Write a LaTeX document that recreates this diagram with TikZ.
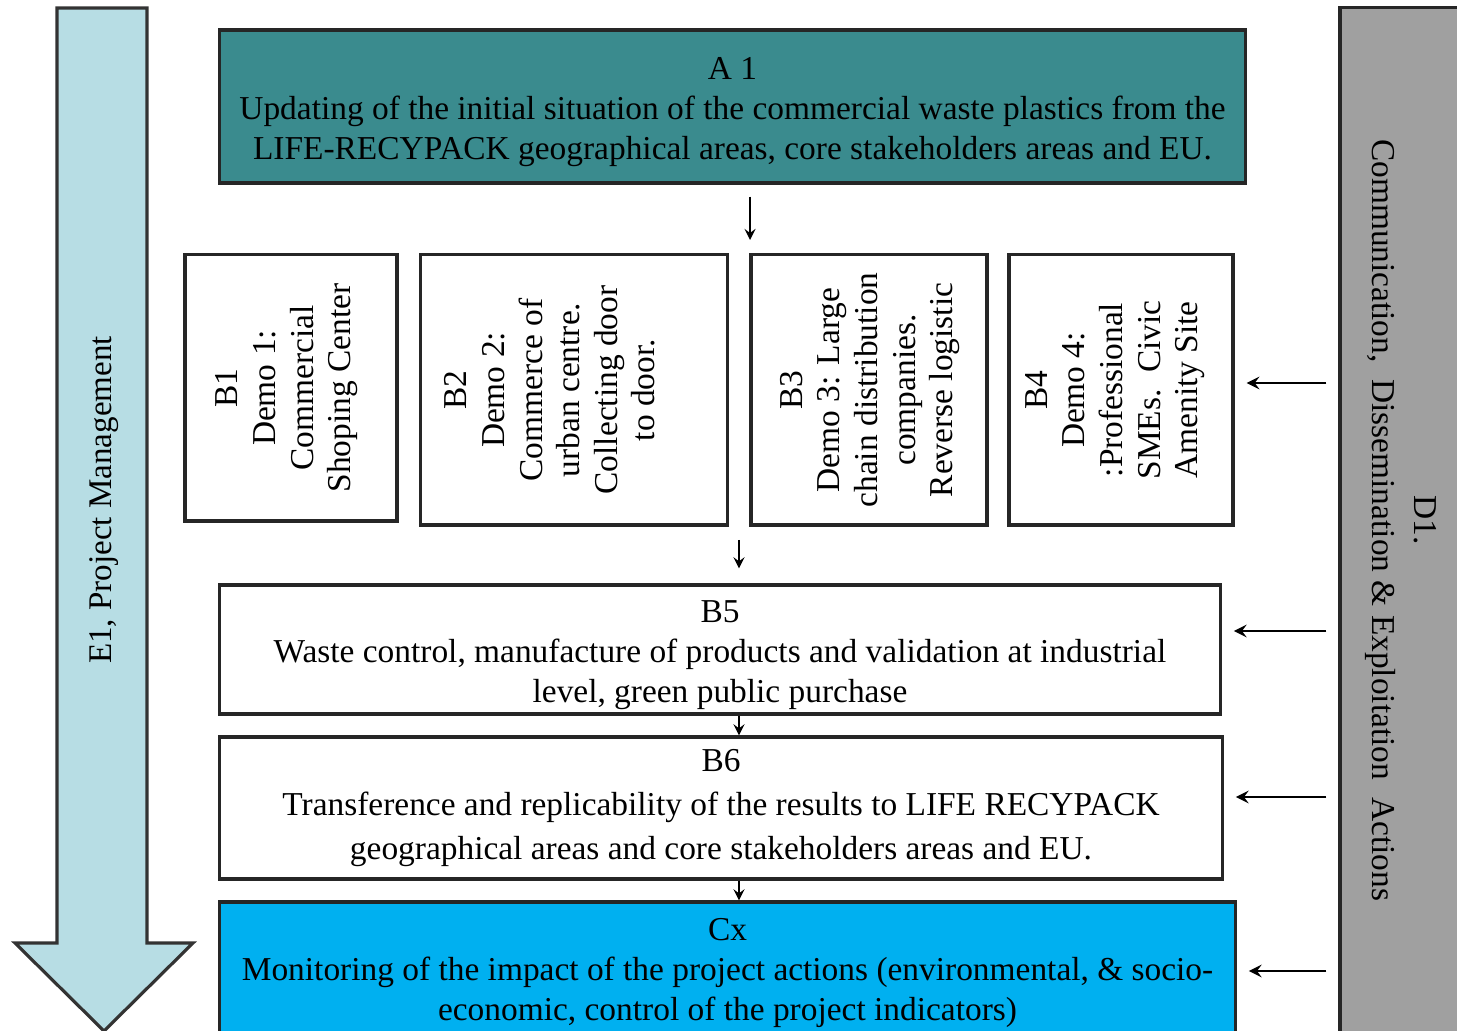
\documentclass[tikz,border=0pt]{standalone}
\usepackage{fontspec}
\setmainfont{Liberation Serif}
\usepackage{tikz}

\definecolor{ateal}{HTML}{3A8B8E}
\definecolor{cblue}{HTML}{00B0F0}
\definecolor{pmblue}{HTML}{B7DDE4}
\definecolor{dgray}{HTML}{A0A0A0}
\newcommand{\topgap}{\rule{0pt}{9.3pt}}

\begin{document}
\begin{tikzpicture}[x=0.01cm,y=-0.01cm,
	box/.style={draw=black!85,line width=0.9pt,inner sep=0pt,align=center,font=\fontsize{9.5}{11.4}\selectfont},
	vtext/.style={rotate=90,align=center,inner sep=0pt,font=\fontsize{9.5}{10.7}\selectfont},
	flow/.style={->,>=stealth,thin},
	feed/.style={->,>=stealth,semithick,shorten <=0.12cm,shorten >=0.12cm}]
	\useasboundingbox (0,0) rectangle (1457,1031);
	\fill[white] (0,0) rectangle (1457,1031);
	
	%E1 arrow
	\draw[fill=pmblue,draw=black!80,line width=0.9pt] (57,8) -- (147,8) -- (147,943) -- (193,943) -- (104,1031) -- (15,943) -- (57,943) -- cycle;
	\node[rotate=90,font=\fontsize{9.4}{11}\selectfont] (e1) at (104,500) {E1, Project Management};
	
	%D1 column
	\node[box,fill=dgray,minimum width=1.4cm,minimum height=10.5cm] (d1) at (1410,533) {};
	\node[rotate=-90,align=center,font=\fontsize{9.5}{11.9}\selectfont] (d1t) at (1401,520)
		{D1.\\Communication,\ \ Dissemination \& Exploitation\ \ Actions};
	
	\node[box,fill=ateal,minimum width=10.25cm,minimum height=1.53cm] (a1) at (732.5,106.5)
		{\topgap A 1\\Updating of the initial situation of the commercial waste plastics from the\\LIFE-RECYPACK geographical areas, core stakeholders areas and EU.};
	
	%demos
	\node[box,minimum width=2.12cm,minimum height=2.66cm] (b1) at (291,388) {};
	\node[box,minimum width=3.06cm,minimum height=2.70cm] (b2) at (574,390) {};
	\node[box,minimum width=2.36cm,minimum height=2.70cm] (b3) at (869,390) {};
	\node[box,minimum width=2.24cm,minimum height=2.70cm] (b4) at (1121,390) {};
	\node[vtext] (b1t) at (287,388) {B1\\Demo 1:\\Commercial\\Shoping Center};
	\node[vtext] (b2t) at (550,390) {B2\\Demo 2:\\Commerce of\\urban centre.\\Collecting door\\to door.};
	\node[vtext] (b3t) at (870,390) {B3\\Demo 3: Large\\chain distribution\\companies.\\Reverse logistic};
	\node[vtext] (b4t) at (1115,390) {B4\\Demo 4:\\:Professional\\SMEs.\ \ Civic\\Amenity Site};
	
	\node[box,minimum width=10cm,minimum height=1.29cm] (b5) at (720,649.5)
		{\topgap B5\\Waste control, manufacture of products and validation at industrial\\level, green public purchase};
	\node[box,minimum width=10.02cm,minimum height=1.42cm,font=\fontsize{9.5}{12.5}\selectfont] (b6) at (721,808)
		{B6\\Transference and replicability of the results to LIFE RECYPACK\\geographical areas and core stakeholders areas and EU.};
	\node[box,fill=cblue,minimum width=10.15cm,minimum height=1.32cm] (cx) at (727.5,968)
		{\topgap Cx\\Monitoring of the impact of the project actions (environmental, \& socio-\\economic, control of the project indicators)};
	
	%flow down
	\coordinate (ra) at (750,240);
	\coordinate (rb) at (739,540);
	\draw[flow,shorten <=0.12cm] (a1.south -| ra) -- (ra);
	\draw[flow,shorten >=0.15cm] (rb) -- (b5.north -| rb);
	\draw[flow] (b5.south -| rb) -- (b6.north -| rb);
	\draw[flow] (b6.south -| rb) -- (cx.north -| rb);
	
	%D1 feeds
	\foreach \n/\y in {b4/383,b5/631,b6/797,cx/971}
		\draw[feed] (d1.west |- 0,\y) -- (\n.east |- 0,\y);
\end{tikzpicture}
\end{document}
